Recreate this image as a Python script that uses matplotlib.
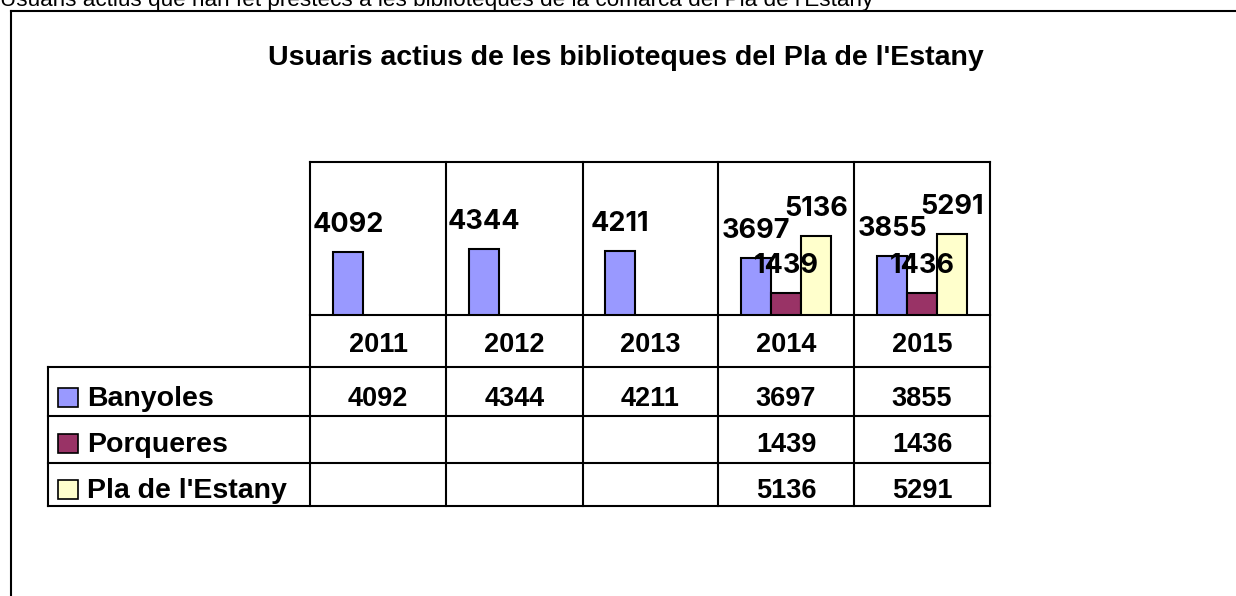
import matplotlib
matplotlib.use("Agg")
import matplotlib.pyplot as plt
import numpy as np
from matplotlib.patches import Rectangle

plt.rcParams['font.family'] = ['Liberation Sans', 'DejaVu Sans']
WIDE = ['Inter', 'Liberation Sans', 'DejaVu Sans']

# data
years = ["2011", "2012", "2013", "2014", "2015"]
series_names = ["Banyoles", "Porqueres", "Pla de l'Estany"]
banyoles = [4092, 4344, 4211, 3697, 3855]
porqueres = [np.nan, np.nan, np.nan, 1439, 1436]
pla_estany = [np.nan, np.nan, np.nan, 5136, 5291]
colors = ["#9999FF", "#993366", "#FFFFCC"]

top_text = "Usuaris actius que han fet préstecs a les biblioteques de la comarca del Pla de l'Estany"
title = "Usuaris actius de les biblioteques del Pla de l'Estany"

W, H = 1236, 596
fig = plt.figure(figsize=(W / 100, H / 100), dpi=100)

# background layer in pixel coords (frame, table grid, texts)
bg = fig.add_axes([0, 0, 1, 1])
bg.set_xlim(0, W)
bg.set_ylim(H, 0)
bg.axis("off")

lw = 1.5
bg.plot([11, W], [10.5, 10.5], color="black", lw=lw)
bg.plot([11, 11], [10.5, H], color="black", lw=lw)
bg.text(0, 6, top_text, ha="left", va="baseline", fontsize=16.2)
bg.text(626, 65, title, ha="center", va="baseline", fontsize=20.5, fontweight="bold")

col_x = [310, 446, 583, 718, 854, 990]
row_y = [162, 315, 367, 416, 463, 506]
leg_x = 48

# grid
for x in col_x:
    bg.plot([x, x], [row_y[0], row_y[-1]], color="black", lw=lw)
bg.plot([leg_x, leg_x], [row_y[2], row_y[-1]], color="black", lw=lw)
bg.plot([col_x[0], col_x[-1]], [row_y[0], row_y[0]], color="black", lw=lw)
bg.plot([col_x[0], col_x[-1]], [row_y[1], row_y[1]], color="black", lw=lw)
for y in row_y[2:]:
    bg.plot([leg_x, col_x[-1]], [y, y], color="black", lw=lw)

# table text
fs = 19.5
baselines = [352, 406, 452, 498]
centers = [(a + b) / 2 for a, b in zip(col_x[:-1], col_x[1:])]
for cx, yr in zip(centers, years):
    bg.text(cx, baselines[0], yr, ha="center", va="baseline", fontsize=fs, fontweight="bold")
all_series = [banyoles, porqueres, pla_estany]
for r, (name, vals, c) in enumerate(zip(series_names, all_series, colors)):
    yb = baselines[r + 1]
    bg.add_patch(Rectangle((58, yb - 18), 20, 19, facecolor=c, edgecolor="black", lw=1.2))
    bg.text(87, yb, name, ha="left", va="baseline", fontsize=20.5, fontweight="bold")
    for cx, v in zip(centers, vals):
        if not np.isnan(v):
            bg.text(cx, yb, f"{int(v)}", ha="center", va="baseline", fontsize=fs, fontweight="bold")

# bar chart area
ax = fig.add_axes([col_x[0] / W, (H - row_y[1]) / H, (col_x[-1] - col_x[0]) / W, (row_y[1] - row_y[0]) / H])
ax.patch.set_alpha(0)
ax.set_xlim(-0.5, 4.5)
ax.set_ylim(0, 10000)
ax.axis("off")

x = np.arange(len(years))
bw = 0.22
for i, (vals, c) in enumerate(zip(all_series, colors)):
    xs = x + (i - 1) * bw
    ax.bar(xs, vals, width=bw, color=c, edgecolor="black", lw=1.5)
    for xi, v in zip(xs, vals):
        if not np.isnan(v):
            ax.annotate(f"{int(v)}", (xi, v), xytext=(0, 14.4), textcoords="offset points",
                        ha="center", va="baseline", fontsize=fs, fontweight="bold",
                        family=WIDE, annotation_clip=False)

fig.savefig("out.png", dpi=100)
